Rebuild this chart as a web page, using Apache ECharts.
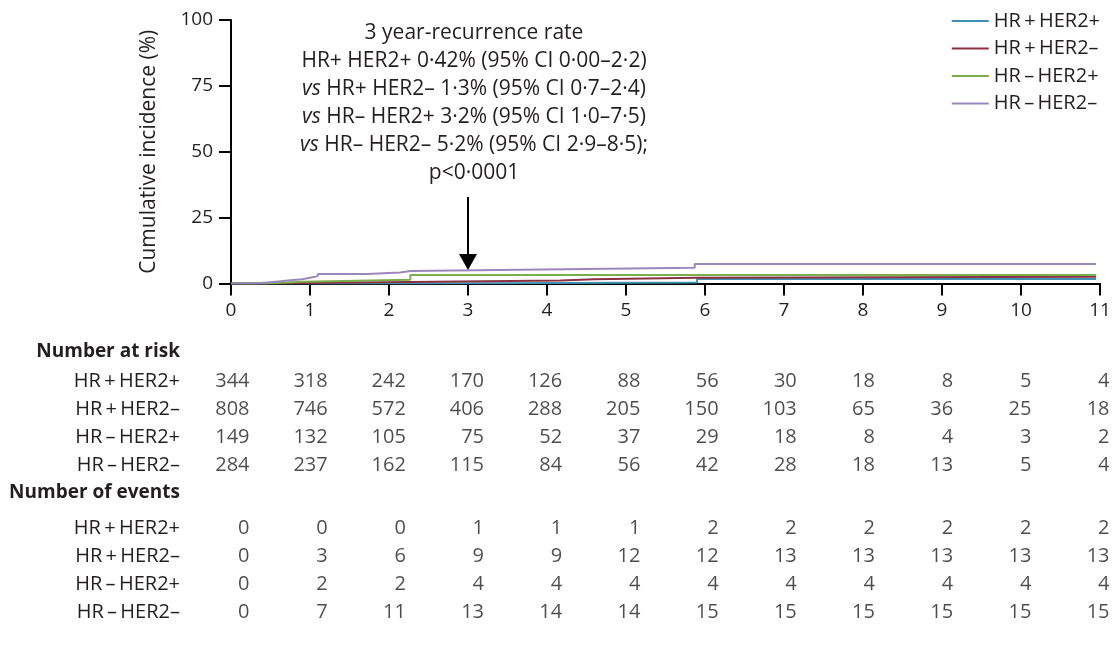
<!DOCTYPE html>
<html>
<head>
<meta charset="utf-8">
<script src="https://cdn.jsdelivr.net/npm/echarts@6/dist/echarts.min.js"></script>
<style>html,body{margin:0;padding:0;background:#fff}#c{width:1117px;height:649px}</style>
</head>
<body>
<div id="c"></div>
<script>
// ---------- data ----------
const groupNames = ['HR\u2009+\u2009HER2+', 'HR\u2009+\u2009HER2\u2013', 'HR\u2009\u2013\u2009HER2+', 'HR\u2009\u2013\u2009HER2\u2013'];
const xTicks = [0,1,2,3,4,5,6,7,8,9,10,11];

// cumulative incidence (%) step points [year, %]
const hrPosHer2Pos = [[0,0],[2.3,0.4],[5.9,1.7],[10.95,1.7]];
const hrPosHer2Neg = [[0,0],[0.6,0.15],[0.9,0.4],[1.5,0.6],[2.27,1.1],[4.17,1.6],[4.6,2.2],[5.9,2.6],[10.95,2.6]];
const hrNegHer2Pos = [[0,0],[0.45,0.7],[0.9,1.4],[2.27,3.2],[10.95,3.2]];
const hrNegHer2Neg = [[0,0],[0.3,0.4],[0.45,0.8],[0.6,1.2],[0.75,1.6],[0.9,2.2],[1.0,2.8],[1.1,3.6],[1.73,4.2],[2.14,4.7],[2.27,5.3],[3.94,6.0],[5.87,7.4],[10.95,7.4]];

// number at risk
const riskHrPosHer2Pos = [344,318,242,170,126,88,56,30,18,8,5,4];
const riskHrPosHer2Neg = [808,746,572,406,288,205,150,103,65,36,25,18];
const riskHrNegHer2Pos = [149,132,105,75,52,37,29,18,8,4,3,2];
const riskHrNegHer2Neg = [284,237,162,115,84,56,42,28,18,13,5,4];
// number of events
const evHrPosHer2Pos = [0,0,0,1,1,1,2,2,2,2,2,2];
const evHrPosHer2Neg = [0,3,6,9,9,12,12,13,13,13,13,13];
const evHrNegHer2Pos = [0,2,2,4,4,4,4,4,4,4,4,4];
const evHrNegHer2Neg = [0,7,11,13,14,14,15,15,15,15,15,15];

const tableHeaders = ['Number at risk', 'Number of events'];
const annotationLines = [
  '3 year-recurrence rate',
  'HR+ HER2+ 0\u00b742% (95% CI 0\u00b700\u20132\u00b72)',
  '{i|vs} HR+ HER2\u2013 1\u00b73% (95% CI 0\u00b77\u20132\u00b74)',
  '{i|vs} HR\u2013 HER2+ 3\u00b72% (95% CI 1\u00b70\u20137\u00b75)',
  '{i|vs} HR\u2013 HER2\u2013 5\u00b72% (95% CI 2\u00b79\u20138\u00b75);',
  'p<0\u00b70001'
];
const arrowFrom = [3, 32.8];
const arrowTo = [3, 8.2];

// ---------- chart ----------
const FONT = 'Open Sans';
const TXT = '#231f20';
const colors = ['#3f93b0', '#8c2f40', '#7aae4c', '#9a88bd'];
const curves = [hrPosHer2Pos, hrPosHer2Neg, hrNegHer2Pos, hrNegHer2Neg];

const riskRows = [riskHrPosHer2Pos, riskHrPosHer2Neg, riskHrNegHer2Pos, riskHrNegHer2Neg];
const eventRows = [evHrPosHer2Pos, evHrPosHer2Neg, evHrNegHer2Pos, evHrNegHer2Neg];
function tableData(rows) {
  const out = [];
  rows.forEach((vals, r) => vals.forEach((v, i) => out.push([xTicks[i], r, v])));
  return out;
}

const series = curves.map((d, i) => ({
  name: groupNames[i], type: 'line', step: 'end', data: d, showSymbol: false, symbol: 'none',
  lineStyle: {width: 2, color: colors[i]}, itemStyle: {color: colors[i]}, silent: true,
  xAxisIndex: 0, yAxisIndex: 0, z: 3
}));
series.push({
  type: 'line', data: [], xAxisIndex: 0, yAxisIndex: 0, silent: true,
  markLine: {
    silent: true, symbol: ['none', 'triangle'], symbolSize: [18, 16],
    label: {show: false},
    lineStyle: {color: '#000', width: 2, type: 'solid'},
    data: [[{coord: arrowFrom}, {coord: arrowTo}]]
  }
});
[riskRows, eventRows].forEach((rows, k) => series.push({
  type: 'scatter', xAxisIndex: k + 1, yAxisIndex: k + 1, data: tableData(rows), symbolSize: 1,
  itemStyle: {color: 'rgba(0,0,0,0)'}, silent: true,
  label: {show: true, position: 'left', distance: 0, formatter: p => String(p.value[2]),
          fontFamily: FONT, fontSize: 20, color: TXT}
}));

const tableY = {
  type: 'category', inverse: true, data: groupNames,
  axisLine: {show: false}, axisTick: {show: false}, splitLine: {show: false},
  axisLabel: {margin: 70, fontFamily: FONT, fontSize: 20, color: TXT, interval: 0}
};

const chart = echarts.init(document.getElementById('c'));
chart.setOption({
  animation: false,
  backgroundColor: '#fff',
  textStyle: {fontFamily: FONT, color: TXT},
  title: {
    text: annotationLines.join('\n'), left: 469, top: 14, textAlign: 'center',
    textStyle: {fontFamily: FONT, fontSize: 21, fontWeight: 'normal', color: TXT, lineHeight: 28,
      rich: {i: {fontFamily: FONT, fontSize: 21, fontStyle: 'italic', color: TXT, lineHeight: 28}}}
  },
  legend: {
    orient: 'vertical', right: 12, top: 6, itemWidth: 37, itemHeight: 2, itemGap: 7.5, icon: 'rect',
    data: groupNames, selectedMode: false,
    textStyle: {fontFamily: FONT, fontSize: 20, color: TXT, lineHeight: 20}
  },
  graphic: tableHeaders.map((t, i) => ({
    type: 'text', x: 180, y: i === 0 ? 352 : 493, silent: true,
    style: {text: t, align: 'right', verticalAlign: 'middle', fill: TXT,
            font: 'bold 19px "' + FONT + '"'}
  })),
  grid: [
    {left: 231, right: 17, top: 20, bottom: 365.5},
    {left: 250, right: 7, top: 367, bottom: 170},
    {left: 250, right: 7, top: 514, bottom: 23}
  ],
  xAxis: [
    {gridIndex: 0, type: 'value', min: 0, max: 11, interval: 1,
     axisLine: {show: true, lineStyle: {color: '#000', width: 2}},
     axisTick: {show: true, length: 12, lineStyle: {color: '#000', width: 2}},
     axisLabel: {margin: 18, fontFamily: FONT, fontSize: 19, color: TXT},
     splitLine: {show: false}},
    {gridIndex: 1, type: 'value', min: 0, max: 11, show: false},
    {gridIndex: 2, type: 'value', min: 0, max: 11, show: false}
  ],
  yAxis: [
    {gridIndex: 0, type: 'value', min: 0, max: 100, interval: 25,
     name: 'Cumulative incidence (%)', nameLocation: 'middle', nameGap: 71,
     nameTextStyle: {fontFamily: FONT, fontSize: 21, color: TXT},
     axisLine: {show: true, lineStyle: {color: '#000', width: 2}},
     axisTick: {show: true, length: 12, lineStyle: {color: '#000', width: 2}},
     axisLabel: {margin: 18, fontFamily: FONT, fontSize: 19, color: TXT},
     splitLine: {show: false}},
    Object.assign({gridIndex: 1}, tableY),
    Object.assign({gridIndex: 2}, tableY)
  ],
  series: series
});
</script>
</body>
</html>
